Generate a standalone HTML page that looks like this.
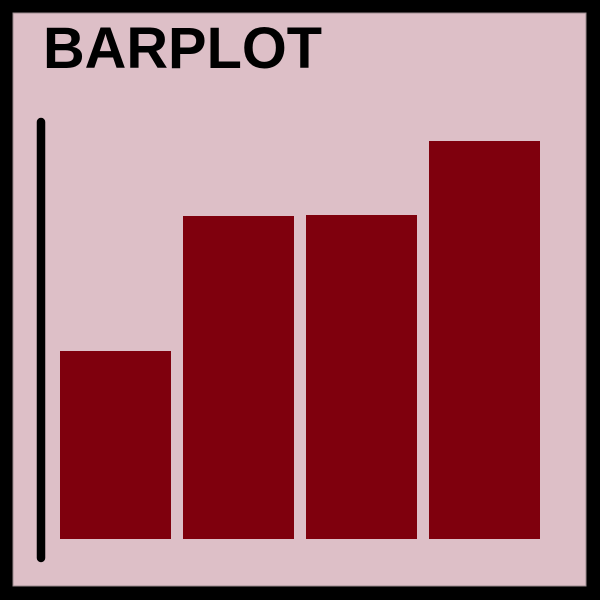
<!DOCTYPE html>
<html><head><meta charset="utf-8"><style>
html,body{margin:0;padding:0;background:#000;}
svg{display:block;}
</style></head><body>
<svg width="600" height="600" viewBox="0 0 600 600">
<rect x="0" y="0" width="600" height="600" fill="#000"/>
<rect x="13" y="13" width="573" height="573" fill="#DDBFC7" stroke="#9a8a8e" stroke-width="1"/>
<text x="43" y="68" font-family="Liberation Sans, sans-serif" font-weight="bold" font-size="58" textLength="279" lengthAdjust="spacingAndGlyphs" fill="#000">BARPLOT</text>
<line x1="41" y1="122" x2="41" y2="558" stroke="#000" stroke-width="8.5" stroke-linecap="round"/>
<g id="bars"></g>
</svg>
<script>
const categories = ["A","B","C","D"];
const values = [1.88, 3.23, 3.24, 3.98];
const baseY = 539, unit = 100;
function yScale(v){ return baseY - v*unit; }
function xScale(i){ return 60 + i*123; }
const g = document.getElementById('bars');
values.forEach((v,i)=>{
  const r = document.createElementNS('http://www.w3.org/2000/svg','rect');
  r.setAttribute('x', xScale(i));
  r.setAttribute('y', yScale(v));
  r.setAttribute('width', 111);
  r.setAttribute('height', baseY - yScale(v));
  r.setAttribute('fill', '#7F000D');
  
  
  g.appendChild(r);
});
</script>
</body></html>
